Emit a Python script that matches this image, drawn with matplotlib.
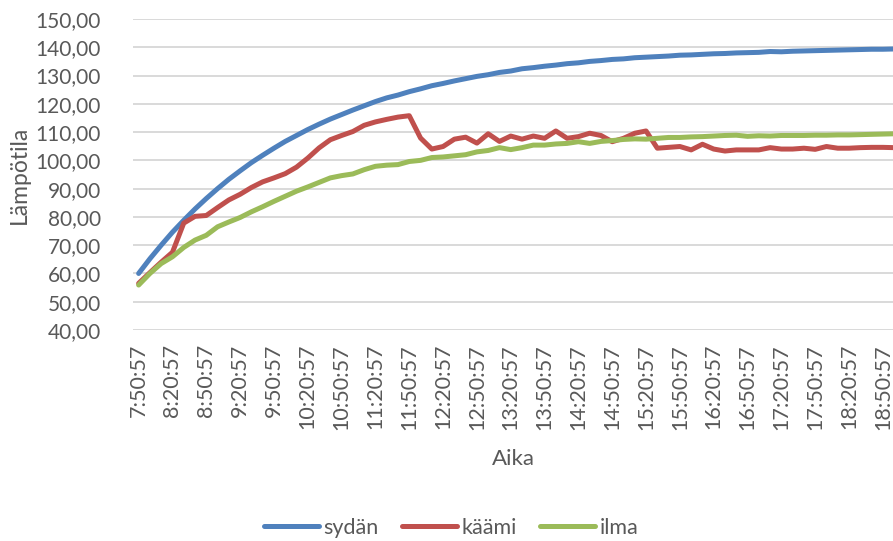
import matplotlib
matplotlib.use("Agg")
import matplotlib.pyplot as plt

plt.rcParams['font.family'] = ['Lato', 'DejaVu Sans']

# mittaukset 10 min valein alkaen 7:50:57
times = []
for i in range(68):
    m = 7 * 60 + 50 + 10 * i
    times.append("%d:%02d:57" % (m // 60, m % 60))

sydan = [60.0, 65.2, 70.0, 74.6, 78.8, 82.8, 86.5, 90.0, 93.3, 96.3,
         99.2, 101.8, 104.3, 106.7, 108.8, 110.9, 112.8, 114.6, 116.2, 117.8,
         119.3, 120.8, 122.1, 123.1, 124.3, 125.3, 126.4, 127.2, 128.1, 128.9,
         129.7, 130.3, 131.1, 131.6, 132.4, 132.8, 133.3, 133.7, 134.2, 134.5,
         135.0, 135.3, 135.7, 135.9, 136.3, 136.5, 136.7, 136.9, 137.2, 137.3,
         137.5, 137.7, 137.8, 138.0, 138.1, 138.2, 138.5, 138.4, 138.6, 138.7,
         138.8, 138.9, 139.0, 139.1, 139.2, 139.3, 139.3, 139.4]

kaami = [56.5, 60.3, 64.0, 67.5, 77.8, 80.2, 80.5, 83.3, 86.0, 88.0,
         90.4, 92.4, 93.8, 95.3, 97.6, 100.8, 104.4, 107.3, 108.8, 110.2,
         112.4, 113.6, 114.5, 115.3, 115.8, 107.9, 104.0, 104.9, 107.5, 108.2,
         106.1, 109.4, 106.7, 108.6, 107.5, 108.6, 107.8, 110.4, 107.8, 108.4,
         109.6, 108.8, 106.6, 107.8, 109.6, 110.4, 104.3, 104.6, 104.9, 103.7,
         105.7, 104.0, 103.3, 103.7, 103.7, 103.7, 104.5, 104.0, 104.0, 104.3,
         103.9, 104.9, 104.3, 104.3, 104.5, 104.6, 104.6, 104.5]

ilma = [55.9, 60.0, 63.5, 65.9, 69.2, 71.8, 73.5, 76.5, 78.2, 79.8,
        81.8, 83.6, 85.5, 87.3, 89.1, 90.6, 92.2, 93.8, 94.6, 95.2,
        96.7, 97.9, 98.3, 98.5, 99.6, 100.0, 101.0, 101.2, 101.6, 102.0,
        103.0, 103.5, 104.5, 103.8, 104.5, 105.4, 105.4, 105.8, 106.0, 106.6,
        106.0, 106.7, 107.0, 107.4, 107.6, 107.5, 107.8, 108.1, 108.1, 108.3,
        108.4, 108.6, 108.8, 108.9, 108.5, 108.7, 108.6, 108.8, 108.8, 108.8,
        108.9, 108.9, 109.0, 109.0, 109.1, 109.2, 109.3, 109.4]

yticks = [40, 50, 60, 70, 80, 90, 100, 110, 120, 130, 140, 150]

text_col = '#595959'
fig = plt.figure(figsize=(8.93, 5.41), dpi=100)
ax = fig.add_axes([133 / 893, 211 / 541, 760 / 893, 311 / 541])

x = list(range(len(times)))
ax.plot(x, sydan, color='#4F81BD', lw=3.6, label='sydän', solid_capstyle='round')
ax.plot(x, kaami, color='#C0504D', lw=3.6, label='käämi', solid_capstyle='round')
ax.plot(x, ilma, color='#9BBB59', lw=3.6, label='ilma', solid_capstyle='round')

ax.set_xlim(-0.5, 66.9)
ax.set_ylim(40, 150)
ax.set_yticks(yticks)
ax.set_yticklabels([("%.2f" % v).replace('.', ',') for v in yticks])
ax.set_xticks(x[::3])
ax.set_xticklabels(times[::3], rotation=90)
ax.tick_params(axis='both', length=0, labelsize=15, colors=text_col)
ax.tick_params(axis='x', labelsize=15.5)
ax.tick_params(axis='y', pad=23)
ax.tick_params(axis='x', pad=10)
ax.grid(axis='y', color='#D9D9D9', lw=1.4)
ax.set_axisbelow(True)
for s in ax.spines.values():
    s.set_visible(False)

ax.set_xlabel('Aika', fontsize=16, color=text_col, labelpad=14)
ax.set_ylabel('Lämpötila', fontsize=16.5, color=text_col)
ax.yaxis.set_label_coords(-0.136, 0.5)

fig.legend(loc='center', bbox_to_anchor=(0.505, 0.024), ncol=3, frameon=False,
           fontsize=15.5, handlelength=2.55, handletextpad=0.2, columnspacing=1.1,
           labelcolor=text_col)

fig.savefig('out.png', dpi=100)
